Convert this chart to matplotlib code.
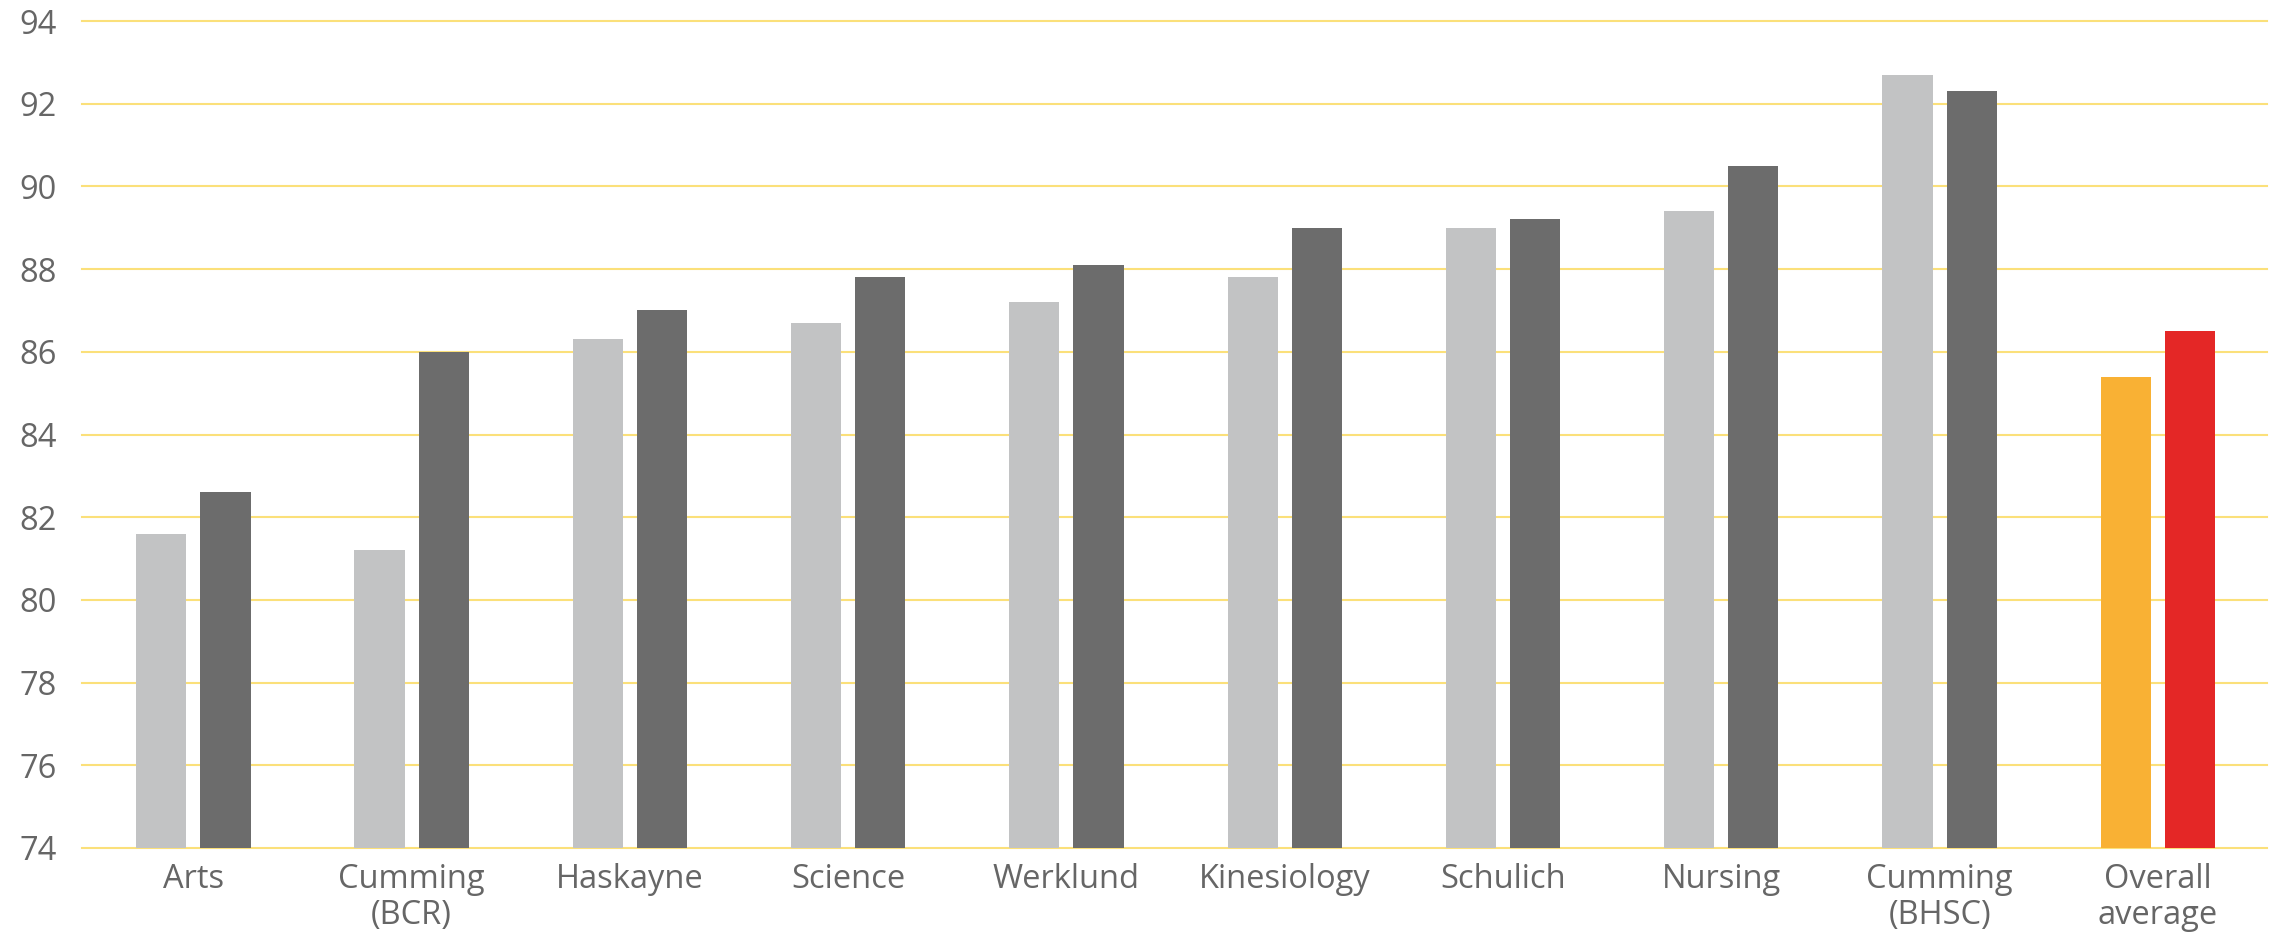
import matplotlib
matplotlib.use("Agg")
import matplotlib.pyplot as plt
import numpy as np

categories = ["Arts", "Cumming\n(BCR)", "Haskayne", "Science", "Werklund",
              "Kinesiology", "Schulich", "Nursing", "Cumming\n(BHSC)", "Overall\naverage"]
series_a = [81.6, 81.2, 86.3, 86.7, 87.2, 87.8, 89.0, 89.4, 92.7, 85.4]
series_b = [82.6, 86.0, 87.0, 87.8, 88.1, 89.0, 89.2, 90.5, 92.3, 86.5]
yticks = [74, 76, 78, 80, 82, 84, 86, 88, 90, 92, 94]

colors_a = ["#C2C3C4"] * 9 + ["#F9B134"]
colors_b = ["#6C6C6C"] * 9 + ["#E42726"]

plt.rcParams['font.family'] = ['Open Sans', 'DejaVu Sans']

fig = plt.figure(figsize=(22.83, 9.35), dpi=100)
ax = fig.add_axes([82/2283, 87/935, (2267-82)/2283, (914-87)/935])

x = np.arange(len(categories))
w = 0.23
off = 0.147
ax.bar(x - off, series_a, width=w, color=colors_a, zorder=3)
ax.bar(x + off, series_b, width=w, color=colors_b, zorder=3)

ax.set_ylim(74, 94)
ax.set_xlim(-0.51, 9.5)
ax.set_yticks(yticks)
ax.set_yticklabels([str(t) for t in yticks])
ax.set_xticks(x)
ax.set_xticklabels(categories, linespacing=1.12)

for t in yticks:
    ax.axhline(t, color="#FBE07A", lw=1.5, zorder=1, clip_on=False)

for s in ax.spines.values():
    s.set_visible(False)
ax.tick_params(axis='both', length=0, colors="#666666", labelsize=23.5)
ax.tick_params(axis='y', pad=18)
ax.tick_params(axis='x', pad=11)

fig.savefig("out.png", dpi=100, facecolor="white")
